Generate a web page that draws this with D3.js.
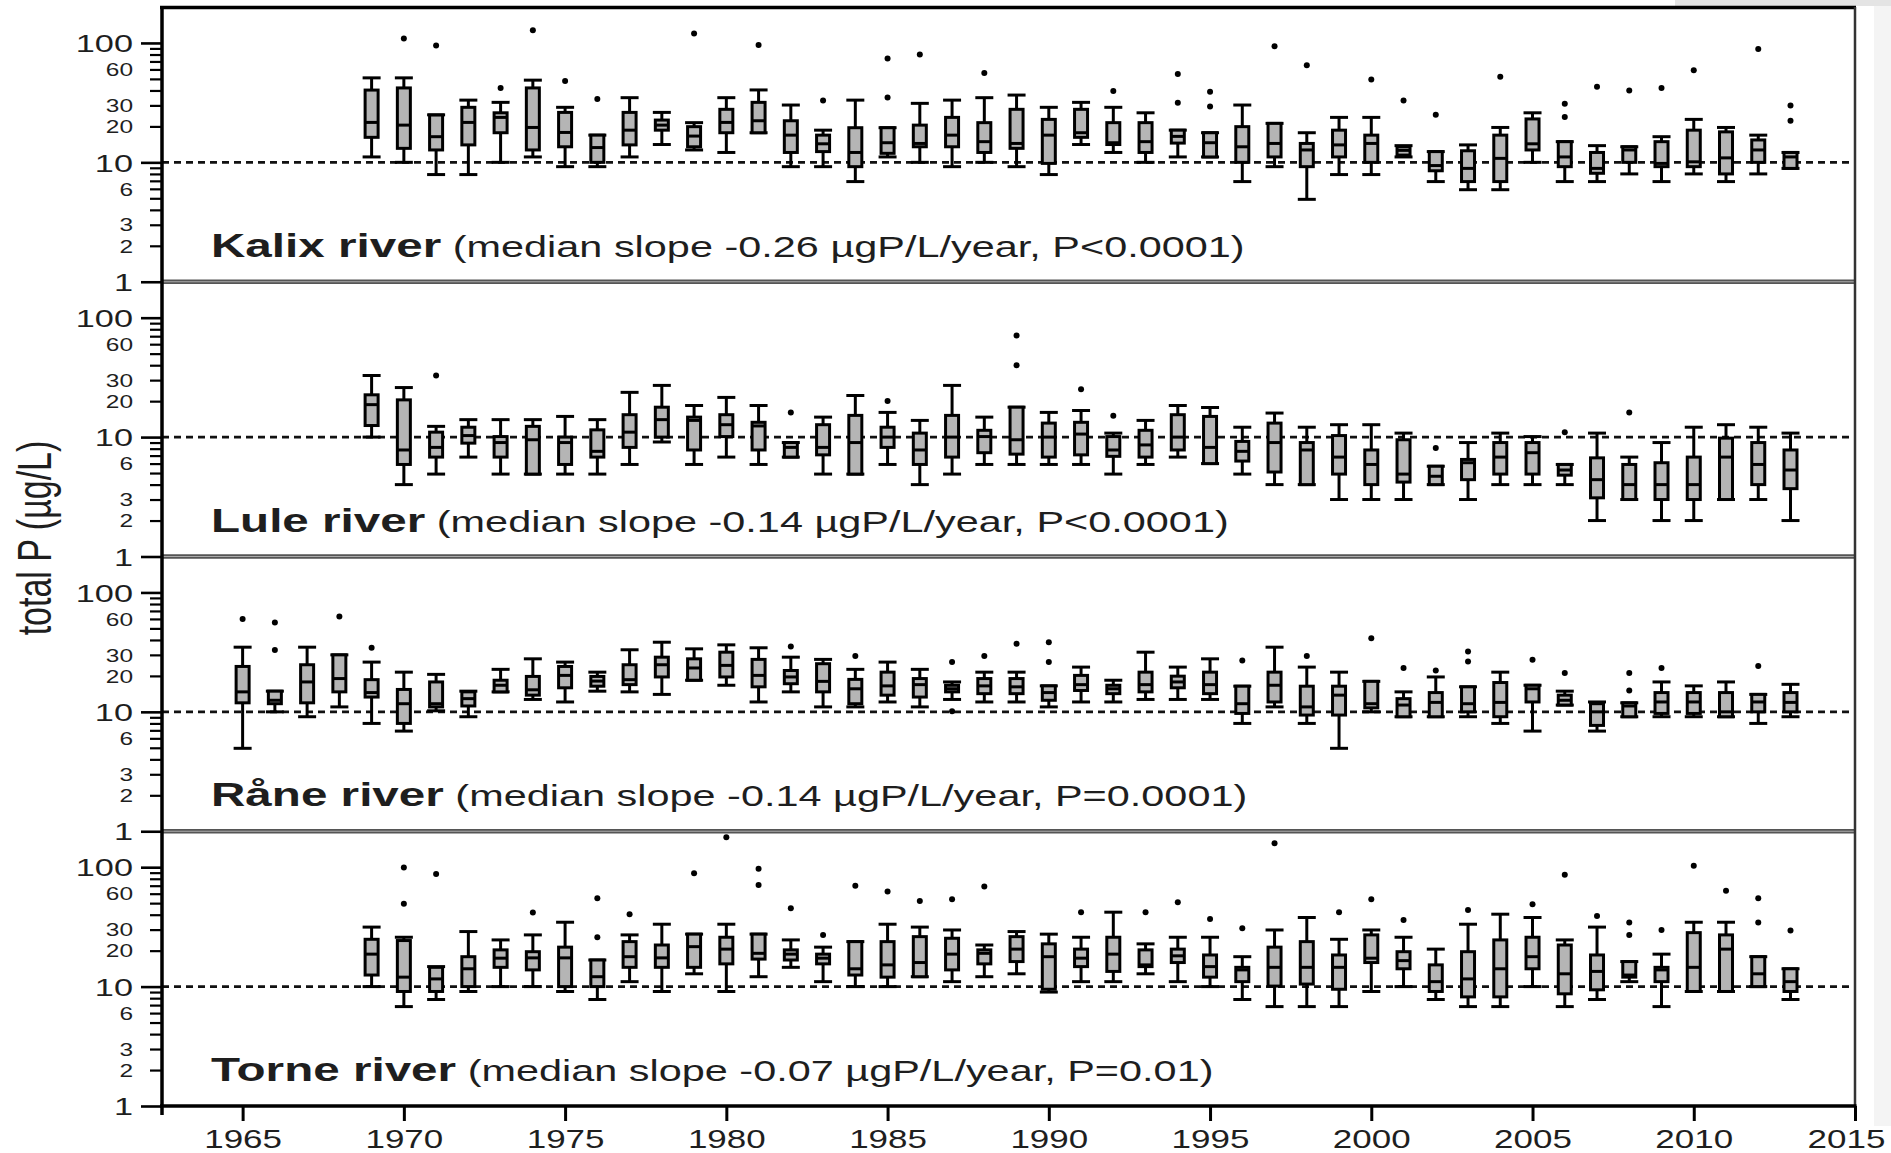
<!DOCTYPE html>
<html><head><meta charset="utf-8">
<script src="https://cdn.jsdelivr.net/npm/d3@7"></script>
<style>
body{margin:0;background:#fff}
svg{display:block}
text{font-family:"Liberation Sans",Arial,Helvetica,sans-serif;fill:#1e1e1e}
</style></head>
<body><svg id="chart" width="1891" height="1153"></svg>
<script>
// ---------- data ----------
const yearsFrom1969 = [1969,1970,1971,1972,1973,1974,1975,1976,1977,1978,1979,1980,1981,1982,1983,1984,1985,1986,1987,1988,1989,1990,1991,1992,1993,1994,1995,1996,1997,1998,1999,2000,2001,2002,2003,2004,2005,2006,2007,2008,2009,2010,2011,2012,2013];
const yearsFrom1965 = [1965,1966,1967,1968,1969,1970,1971,1972,1973,1974,1975,1976,1977,1978,1979,1980,1981,1982,1983,1984,1985,1986,1987,1988,1989,1990,1991,1992,1993,1994,1995,1996,1997,1998,1999,2000,2001,2002,2003,2004,2005,2006,2007,2008,2009,2010,2011,2012,2013];

// [lower whisker, Q1, median, Q3, upper whisker]  (µg/L)
const kalixBoxes = [
[11.1,16.2,21.6,40.3,51],[10,13.1,20.5,42,51],[7.9,12.7,16.4,24.9,25],[7.9,14,21.6,28.9,33.2],[10,17.7,23.8,26,31.8],
[11.1,12.7,19.6,42,48.8],[9.2,13.5,17.8,26.2,28.9],[9.2,10,13.3,16.9,16.9],[11.1,14,18.6,26.2,34.8],[14.1,18.6,20.5,22.6,26.2],
[12.7,13.5,16.6,19.9,21.5],[12.1,17.7,21.6,27.8,34.8],[17.7,17.7,22.3,31.8,40.4],[9.2,12.1,16.9,22.3,30.2],[9.2,12.3,14.3,16.9,18.6],
[6.9,9.2,12.1,19.5,33.2],[11.1,11.9,14.6,19.5,19.5],[10,13.5,14.4,20.5,31.2],[9.2,13.5,16.9,23.8,33.2],[10,12.1,14.9,21.5,34.8],
[9.2,13.1,14.4,27.8,36.6],[7.9,9.8,16.9,22.9,28.9],[14.1,16.2,17.7,27.8,31.8],[12.1,14.1,14.6,21.5,28.9],[10,12.1,14.9,21.5,26],
[11.1,14.5,16.5,18.6,18.6],[11.1,11.1,14.6,17.7,17.7],[6.9,10,13.5,19.9,30.2],[9.2,11.1,14.4,21.2,21.2],[4.9,9.2,12.7,14.4,17.7],
[7.9,11.1,14,18.6,23.8],[7.9,10,14.4,16.9,23.8],[11.1,11.5,12.6,13.5,13.8],[6.9,8.5,9.4,12.3,12.3],[5.9,6.9,8.9,12.5,14],
[5.9,6.9,10.8,16.9,19.6],[10,12.7,14.3,23.1,26],[6.9,9.2,11.1,14.9,14.9],[6.9,8.1,8.9,12.1,13.8],[8,10,12.7,13.5,13.5],
[6.9,9.2,9.8,14.9,16.4],[8,9.2,10.1,18.6,22.9],[6.9,8,10.9,18,19.6],[8,10,12.7,15.4,16.9],[8.9,8.9,11.1,12.1,12.1]];
const kalixOutliers = [[],[109],[95],[],[42],[128],[48],[34],[],[],[120],[],[96],[],[33],[],[74,35],[80],[],[56],[],[],[],[39.5],[],
[55,31.6],[39,29.3],[],[94],[65],[],[49.5],[33],[25],[],[52],[],[31,24],[43],[40],[42],[59],[],[89],[30,22.3]];

const luleBoxes = [
[10,12.5,18.7,22.6,32.8],[4,5.9,7.8,20.5,26],[4.9,6.8,8.2,11,12.3],[6.8,8.9,10.3,12.1,14],[4.9,6.8,9,10.1,14],
[4.9,4.9,9.5,12.3,14],[4.9,5.9,9,10,14.9],[4.9,6.8,7.6,11.5,14],[5.9,8.2,11,15.4,23.7],[9.1,10,14,17.8,27.1],
[5.9,7.8,13.8,14.7,18.4],[6.8,10.1,12.7,15.4,21.5],[5.9,7.8,12.4,13.3,18.4],[6.8,6.8,8.2,9,9],[4.9,7.1,8.2,12.7,14.7],
[4.9,4.9,9,15.2,22.3],[5.9,8.2,10,12.1,16.1],[4,5.9,7.8,10.8,13.8],[4.9,6.8,10,15.2,27.1],[5.9,7.4,10.1,11.4,14.7],
[5.9,7.2,9.5,17.8,17.8],[5.9,6.8,10,13.1,16.1],[5.9,7.1,10.6,13.3,16.7],[4.9,6.9,7.8,10.1,10.8],[5.9,6.8,8.6,11.4,13.8],
[6.8,7.8,10,15.4,18.4],[6,6,8.2,14.9,17.7],[4.9,6.3,7.6,9.2,12.1],[4,5.1,9,13.1,15.9],[4,4,7.8,9,12.1],
[3,4.9,6.8,10.3,12.7],[3,4,5.9,7.8,12.7],[3,4.2,4.9,9.5,10.8],[4,4,4.7,5.7,5.7],[3,4.4,6.1,6.5,9],
[4,4.9,6.8,9,10.8],[4,4.9,7.4,9,10.1],[4,4.8,5.3,5.9,5.9],[2,3.1,4.4,6.7,10.8],[3,3,4,5.9,6.8],
[2,3,4,6.1,9],[2,3,4,6.8,12.1],[3,3,6.8,9.8,12.7],[3,4,5.9,9,12.1],[2,3.7,5.3,7.8,10.8]];
const luleOutliers = [[],[],[32.8],[],[],[],[],[],[],[],[],[],[],[16.1],[],[],[20.1],[],[],[],[71,40],[],[25.2],[15.1],[],
[],[],[],[],[],[],[],[],[8.1],[],[],[],[11],[],[16.1],[],[],[],[],[]];

const raneBoxes = [
[4.95,11.9,14.7,24,34.8],[10,11.7,12.5,14.9,14.9],[9.1,11.9,17.8,24.8,34.8],[11,14.7,19,30,30],
[8,13.3,14.5,18.6,26.1],[6.9,8,11.7,15.4,21.5],[10.2,11,11.7,17.8,20.6],[9.1,11.2,12.9,14.7,14.9],[14.7,14.7,16.7,18.4,22.7],
[12.7,13.8,15.3,19.8,27.8],[12.1,15.9,20.2,24,26.1],[14.9,16.4,18.1,19.8,21.5],[14.7,16.9,18.6,24.8,33.1],[14,19.6,24.8,28.7,38.3],
[18.4,18.4,23.3,27.8,33.7],[16.7,19.6,24.5,31.6,36.4],[12.1,16.2,20.2,27.5,34.4],[14.7,17.2,19.6,22.2,28.7],[11,14.7,18,25.3,27.5],
[11,11.7,15.6,18.7,22.7],[12.1,13.8,16.5,21.5,26.1],[11,13.3,16.9,19,22.7],[12.7,14.7,15.6,16.7,17.8],[12.1,14.2,16.5,19,21.5],
[12.1,14.2,16.2,19,21.5],[11,12.5,14.5,16.5,16.5],[12.1,15.1,16.9,20.2,23.7],[12.1,14.2,15.6,16.7,18.4],[12.7,14.7,16.9,21.5,31.6],
[12.7,15.9,17.8,19.9,23.7],[12.7,14.2,16.9,21.5,27.8],[8,9.7,11.7,16.4,16.4],[11,12.1,16.7,21.5,34.8],[8,9.4,11,16.4,23.7],
[4.95,9.4,13.8,16.4,21.5],[10,10.8,11.7,18,18],[9.1,9.1,11.4,12.9,14.7],[9.1,9.1,12,14.5,19.6],[9.1,10,11.7,16.2,16.2],
[8,9.1,12,17.6,21.5],[6.9,12.1,15.6,16.7,16.7],[11.4,11.4,12.5,13.8,14.9],[6.9,7.7,10,11.7,12.1],[9.1,9.1,11.2,11.9,11.9],
[9.1,9.7,12.1,14.5,17.8],[9.1,9.7,12.1,14.5,16.5],[9.1,9.1,10,14.5,17.8],[8,10,12.1,14,14],[9.1,10,12,14.5,17]];
const raneOutliers = [[60],[56,33],[],[63],[34.4],[],[],[],[],[],[],[],[],[],[],[],[],[35.3],[],[29.3],[],[],[26.1,10.1],[29.3],
[37.1],[38.3,26.1],[],[],[],[],[],[26.9],[],[29.3],[],[41.4],[23.3],[22.2],[32,26.4],[],[27.3],[21.2],[],[21.2,15.1],[23.3],[],[],[24.2],[]];

const torneBoxes = [
[10,12.5,18.7,24.9,31.5],[6.8,9.1,12,24.3,25.9],[7.8,9.1,11.6,14.5,14.7],[9.1,10,14.1,17.8,28.9],[10,14.5,17.3,20.3,24.6],
[10,13.8,17.4,19.6,27.1],[9.1,10,17.4,21.4,34.6],[7.8,10,12.1,16.7,16.7],[11,14.5,17.8,23.8,27.1],[9.1,14.5,17.4,22.3,33.3],
[12.8,14.5,21.6,27.5,27.5],[9.1,15.5,20.6,25.9,33.3],[12.1,17,19,27.5,27.5],[14.5,16.7,18.7,20.3,24.6],[11,15.5,17.3,18.7,21.4],
[10,12.5,14.1,23.8,23.8],[10,12,15.2,23.8,33.3],[12.1,12.1,15.9,26.2,31.5],[11,13.8,18.7,25.4,29.8],[12.1,15.5,19,20.3,22.3],
[12.8,16.2,20.6,26.2,28.9],[9,9.5,17.8,22.8,27.5],[11,14.7,17.3,20.6,25.9],[11,13.4,18.7,25.9,42],[12.8,14.7,15.2,20.3,22.8],
[11,15.9,18.1,20.6,25.9],[10,12,14.7,18.4,25.9],[7.8,11,13.8,14.5,17.8],[6.8,10.1,14.5,21.4,29.8],[6.8,10.5,14.5,23.8,37.9],
[6.8,9.5,14.5,18.4,24.9],[9.1,15.9,17.3,27.1,29.8],[10,14.1,16.5,19.6,25.9],[7.8,9.1,11,15.2,20.6],[6.8,8.2,11.6,19.6,33.3],
[6.8,8.2,14.1,24.6,40.4],[10,14.1,17.8,25.9,37.9],[6.8,8.7,12.8,22.3,24.6],[7.8,9.4,13.4,18.4,31.5],[11,12,12.5,16.2,16.2],
[6.8,11,13.8,14.5,18.7],[9.1,9.1,14.5,28.3,34.6],[9.1,9.1,20.6,27.1,34.6],[10,10,12.8,17.8,17.8],[7.8,9.1,11,14.1,14.1]];
const torneOutliers = [[],[99.5,49.3],[87.5],[],[],[41.7],[],[55,25.9],[40.4],[],[88.8],[178],[97,71],[45.3],[27.1],[70],[62.5],
[52.2],[53.9],[68.9],[],[],[42],[],[42],[50.9],[36.9],[30.8],[159],[],[42],[53.9],[36.2],[],[43.9],[],[48.9],[86.6],[39.1],
[34.4,27.1],[29.8],[103],[63.6],[55,34.4],[29.5]];

const riverNames = ["Kalix river","Lule river","Råne river","Torne river"];
const riverNotes = [" (median slope -0.26 µgP/L/year, P<0.0001)"," (median slope -0.14 µgP/L/year, P<0.0001)",
                    " (median slope -0.14 µgP/L/year, P=0.0001)"," (median slope -0.07 µgP/L/year, P=0.01)"];
const xTicks = [1965,1970,1975,1980,1985,1990,1995,2000,2005,2010,2015];
const yMajorTicks = [1,10,100];
const yMinorLabeled = [2,3,6,20,30,60];
const yMinorPlain = [4,5,7,8,9,40,50,70,80,90];
const refLevel = 10;
const yTitle = "total P (µg/L)";

// ---------- layout ----------
const L = 162, R = 1855, T = 7, B = 1106;
const panelH = (B - T) / 4;
const SX = 1.4; // horizontal stretch of the original figure's lettering
const svg = d3.select("#chart");

// faint frame decoration at top-right / right edge
svg.append("rect").attr("x",1675).attr("y",0).attr("width",216).attr("height",6).attr("fill","#e4e4e4");
svg.append("rect").attr("x",1874).attr("y",6).attr("width",17).attr("height",1120).attr("fill","#f4f4f4");

const x = d3.scaleLinear().domain([1962.5, 2015]).range([L, R]);

const rivers = [
  {years: yearsFrom1969, boxes: kalixBoxes, out: kalixOutliers},
  {years: yearsFrom1969, boxes: luleBoxes, out: luleOutliers},
  {years: yearsFrom1965, boxes: raneBoxes, out: raneOutliers},
  {years: yearsFrom1969, boxes: torneBoxes, out: torneOutliers}
];

rivers.forEach((r, i) => {
  const y0 = T + i * panelH, y1 = y0 + panelH;
  const y = d3.scaleLog().domain([1, 200]).range([y1, y0]);
  const g = svg.append("g");

  // dashed reference line
  g.append("line").attr("x1", L).attr("x2", R).attr("y1", y(refLevel)).attr("y2", y(refLevel))
    .attr("stroke", "#111").attr("stroke-width", 2.6).attr("stroke-dasharray", "7,5");

  const data = r.years.map((yr, k) => ({yr, s: r.boxes[k], o: r.out[k]}));
  const bx = g.selectAll("g.bx").data(data).join("g").attr("class","bx")
    .attr("transform", d => `translate(${x(d.yr)},0)`);
  bx.append("line").attr("x1",0).attr("x2",0).attr("y1", d => y(d.s[0])).attr("y2", d => y(d.s[4]))
    .attr("stroke","#000").attr("stroke-width",3);
  bx.append("line").attr("x1",-9).attr("x2",9).attr("y1", d => y(d.s[0])).attr("y2", d => y(d.s[0]))
    .attr("stroke","#000").attr("stroke-width",3);
  bx.append("line").attr("x1",-9).attr("x2",9).attr("y1", d => y(d.s[4])).attr("y2", d => y(d.s[4]))
    .attr("stroke","#000").attr("stroke-width",3);
  bx.append("rect").attr("x",-6.5).attr("width",13)
    .attr("y", d => y(d.s[3])).attr("height", d => Math.max(0.5, y(d.s[1]) - y(d.s[3])))
    .attr("fill","#b5b5b5").attr("stroke","#000").attr("stroke-width",3);
  bx.append("line").attr("x1",-6.5).attr("x2",6.5).attr("y1", d => y(d.s[2])).attr("y2", d => y(d.s[2]))
    .attr("stroke","#000").attr("stroke-width",3);
  bx.selectAll("circle").data(d => d.o).join("circle").attr("cx",0).attr("cy", v => y(v)).attr("r",3).attr("fill","#000");

  // y axes
  const ga = g.append("g").attr("transform", `translate(${L},0)`);
  const major = ga.append("g").call(d3.axisLeft(y).tickValues(yMajorTicks).tickSize(21).tickFormat(d3.format("d")));
  const minL = ga.append("g").call(d3.axisLeft(y).tickValues(yMinorLabeled).tickSize(12).tickFormat(d3.format("d")));
  const minP = ga.append("g").call(d3.axisLeft(y).tickValues(yMinorPlain).tickSize(12).tickFormat(""));
  [major, minL, minP].forEach(a => { a.select(".domain").remove(); a.selectAll(".tick line").attr("stroke","#000"); });
  major.selectAll(".tick line").attr("stroke-width",2.6);
  minL.selectAll(".tick line").attr("stroke-width",2.2);
  minP.selectAll(".tick line").attr("stroke-width",2.2);
  major.selectAll(".tick text").attr("x",null).attr("dy",null).attr("fill","#222")
    .attr("font-size",24.5).attr("transform",`translate(-29,8.7) scale(${SX},1)`);
  minL.selectAll(".tick text").attr("x",null).attr("dy",null).attr("fill","#222")
    .attr("font-size",17.5).attr("transform",`translate(-29,6.2) scale(${SX},1)`);
  [major, minL, minP].forEach(a => a.attr("font-family", null));

  // panel title
  const t = g.append("text").attr("transform", `translate(211,${y1 - 25}) scale(${SX},1)`).style("white-space","pre");
  t.append("tspan").attr("font-weight","bold").attr("font-size",34).text(riverNames[i]);
  t.append("tspan").attr("font-size",29.6).text(riverNotes[i]);
});

// panel separators
for (let i = 1; i < 4; i++) {
  const yy = T + i * panelH;
  svg.append("line").attr("x1", L).attr("x2", R + 1).attr("y1", yy).attr("y2", yy).attr("stroke","#555").attr("stroke-width",4.5);
  svg.append("line").attr("x1", L).attr("x2", R + 1).attr("y1", yy).attr("y2", yy).attr("stroke","#aaa").attr("stroke-width",1);
}

// frame
svg.append("line").attr("x1", L - 2).attr("x2", R + 1).attr("y1", T + 0.5).attr("y2", T + 0.5).attr("stroke","#000").attr("stroke-width",3.5);
svg.append("line").attr("x1", R).attr("x2", R).attr("y1", T).attr("y2", B).attr("stroke","#333").attr("stroke-width",2.5);

// x axis
const gx = svg.append("g").attr("transform", `translate(0,${B})`)
  .call(d3.axisBottom(x).tickValues(xTicks).tickSize(15).tickFormat(d3.format("d")));
gx.attr("font-family", null);
gx.select(".domain").remove();
gx.selectAll(".tick line").attr("stroke","#000").attr("stroke-width",3);
gx.selectAll(".tick text").attr("y",null).attr("dy",null).attr("fill","#222").attr("font-size",25)
  .attr("transform", d => `translate(${d === 2015 ? -9 : 0},42) scale(${SX},1)`);
svg.append("line").attr("x1", L - 2).attr("x2", R + 1.5).attr("y1", B).attr("y2", B).attr("stroke","#000").attr("stroke-width",3.5);
svg.append("line").attr("x1", L).attr("x2", L).attr("y1", T - 1).attr("y2", B + 9).attr("stroke","#000").attr("stroke-width",3.5);

// y title
svg.append("text").attr("transform", `translate(51,538) scale(${SX},1) rotate(-90)`)
  .attr("text-anchor","middle").attr("font-size",34).attr("fill","#222").text(yTitle);
</script></body></html>
